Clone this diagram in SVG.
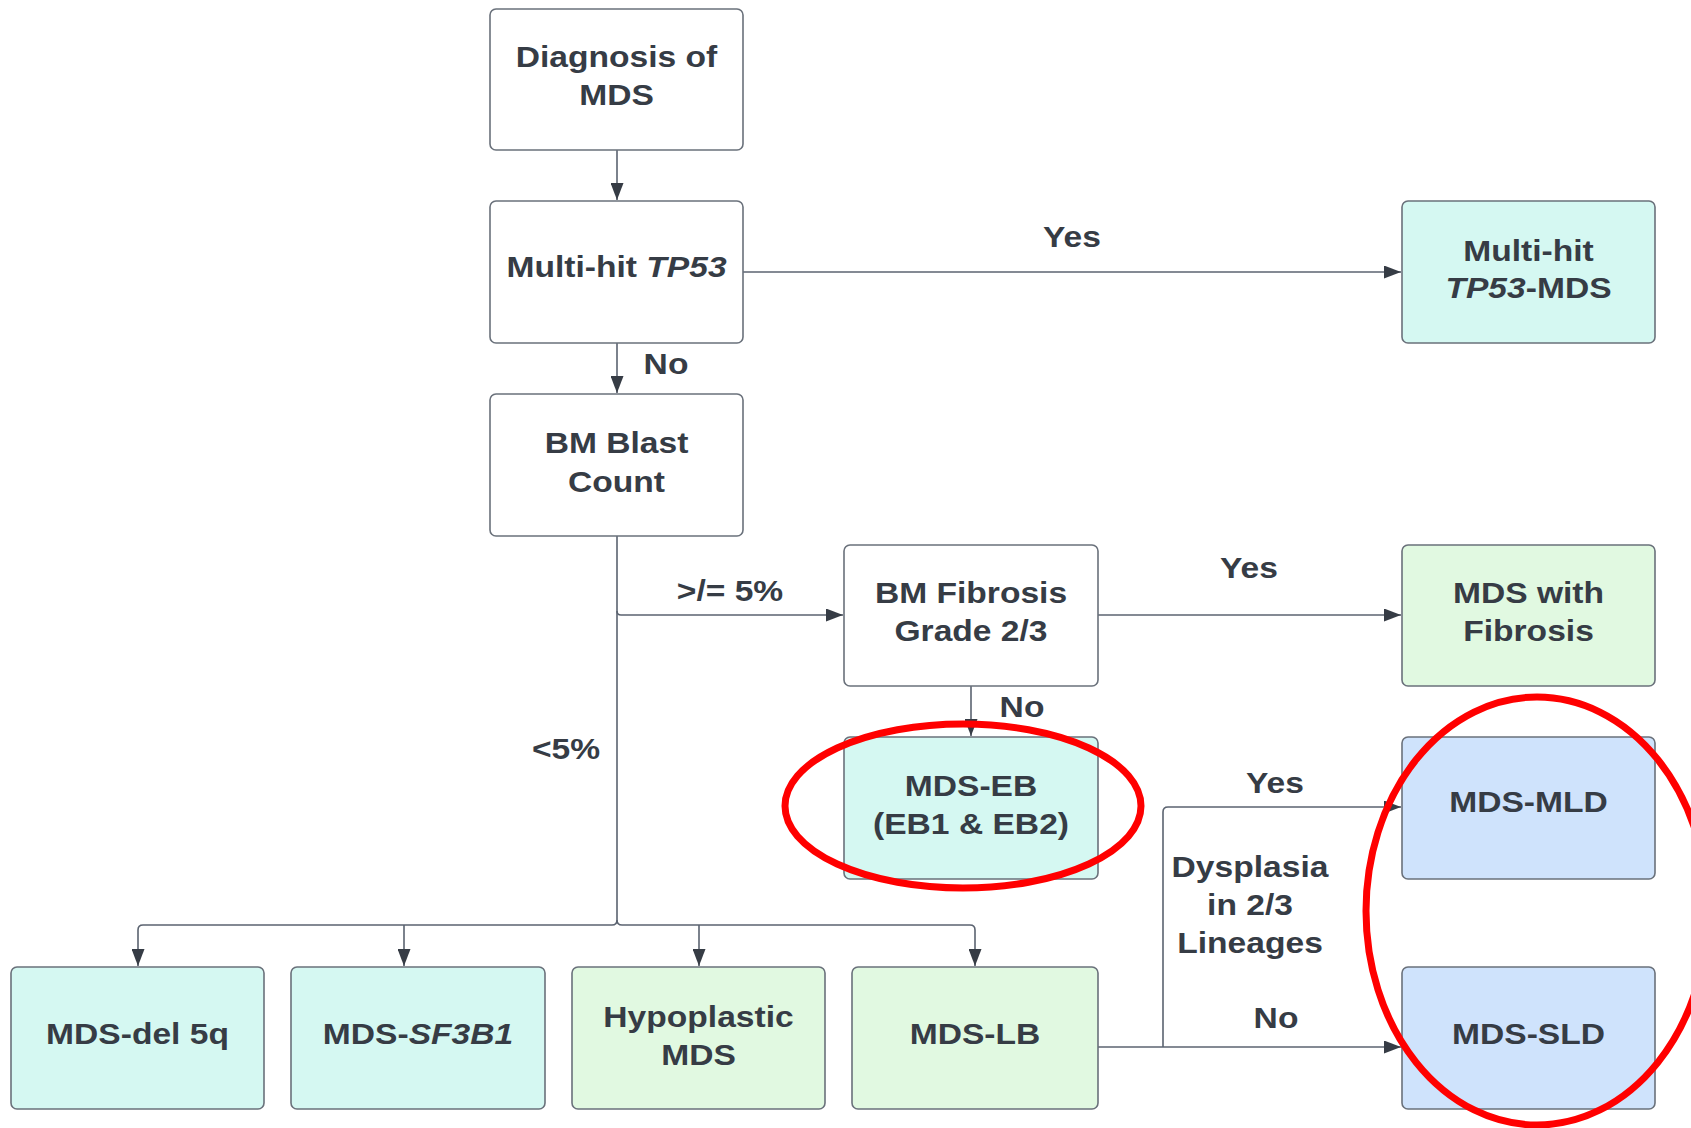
<svg xmlns="http://www.w3.org/2000/svg" width="1691" height="1128" viewBox="0 0 1691 1128">
<style>
  .box{stroke:#6a717b;stroke-width:1.6}
  .w{fill:#ffffff}
  .c{fill:#d5f8f2}
  .g{fill:#e1f9e1}
  .b{fill:#cfe3fc}
  .t{font-family:"Liberation Sans",Arial,sans-serif;font-weight:bold;font-size:30px;fill:#363c45;text-anchor:middle}
  .i{font-style:italic}
  .ln{fill:none;stroke:#5b6370;stroke-width:1.6}
  .red{fill:none;stroke:#ff0000;stroke-width:7}
</style>
<defs>
  <marker id="ah" viewBox="0 0 17 13" refX="17" refY="6.5" markerWidth="17" markerHeight="13" markerUnits="userSpaceOnUse" orient="auto">
    <path d="M0,0 L17,6.5 L0,13 Z" fill="#363c45"/>
  </marker>
</defs>
<rect width="1691" height="1128" fill="#ffffff"/>

<g id="connectors">
  <path class="ln" d="M617,150 V200" marker-end="url(#ah)"/>
  <path class="ln" d="M743,272 H1401" marker-end="url(#ah)"/>
  <path class="ln" d="M617,343 V393" marker-end="url(#ah)"/>
  <path class="ln" d="M617,536 V611 Q617,615 621,615 H843" marker-end="url(#ah)"/>
  <path class="ln" d="M617,611 V920 Q617,925 612,925 H143 Q138,925 138,930 V966" marker-end="url(#ah)"/>
  <path class="ln" d="M617,920 Q617,925 622,925 H970 Q975,925 975,930 V966" marker-end="url(#ah)"/>
  <path class="ln" d="M404,925 V966" marker-end="url(#ah)"/>
  <path class="ln" d="M699,925 V966" marker-end="url(#ah)"/>
  <path class="ln" d="M1098,615 H1401" marker-end="url(#ah)"/>
  <path class="ln" d="M971,686 V736" marker-end="url(#ah)"/>
  <path class="ln" d="M1098,1047 H1401" marker-end="url(#ah)"/>
  <path class="ln" d="M1163,1047 V812 Q1163,807 1168,807 H1401" marker-end="url(#ah)"/>

  <text class="t" transform="translate(1072 0) scale(1.12 1)" x="0" y="247">Yes</text>
  <text class="t" transform="translate(666 0) scale(1.12 1)" x="0" y="374">No</text>
  <text class="t" transform="translate(730 0) scale(1.12 1)" x="0" y="601">&gt;/= 5%</text>
  <text class="t" transform="translate(566 0) scale(1.12 1)" x="0" y="759">&lt;5%</text>
  <text class="t" transform="translate(1249 0) scale(1.12 1)" x="0" y="578">Yes</text>
  <text class="t" transform="translate(1022 0) scale(1.12 1)" x="0" y="717">No</text>
  <text class="t" transform="translate(1275 0) scale(1.12 1)" x="0" y="793">Yes</text>
  <text class="t" transform="translate(1250 0) scale(1.12 1)"><tspan x="0" y="877">Dysplasia</tspan><tspan x="0" y="915">in 2/3</tspan><tspan x="0" y="953">Lineages</tspan></text>
  <text class="t" transform="translate(1276 0) scale(1.12 1)" x="0" y="1028">No</text>
</g>

<g id="n-diag">
  <rect class="box w" x="490" y="9" width="253" height="141" rx="6"/>
  <text class="t" transform="translate(616.5 0) scale(1.12 1)"><tspan x="0" y="67">Diagnosis of</tspan><tspan x="0" y="105">MDS</tspan></text>
</g>
<g id="n-tp53">
  <rect class="box w" x="490" y="201" width="253" height="142" rx="6"/>
  <text class="t" transform="translate(616.5 0) scale(1.12 1)" x="0" y="277">Multi-hit <tspan class="i">TP53</tspan></text>
</g>
<g id="n-blast">
  <rect class="box w" x="490" y="394" width="253" height="142" rx="6"/>
  <text class="t" transform="translate(616.5 0) scale(1.12 1)"><tspan x="0" y="453">BM Blast</tspan><tspan x="0" y="492">Count</tspan></text>
</g>
<g id="n-tp53mds">
  <rect class="box c" x="1402" y="201" width="253" height="142" rx="6"/>
  <text class="t" transform="translate(1528.5 0) scale(1.12 1)"><tspan x="0" y="261">Multi-hit</tspan><tspan x="0" y="298"><tspan class="i">TP53</tspan>-MDS</tspan></text>
</g>
<g id="n-fib">
  <rect class="box w" x="844" y="545" width="254" height="141" rx="6"/>
  <text class="t" transform="translate(971 0) scale(1.12 1)"><tspan x="0" y="603">BM Fibrosis</tspan><tspan x="0" y="641">Grade 2/3</tspan></text>
</g>
<g id="n-mdsfib">
  <rect class="box g" x="1402" y="545" width="253" height="141" rx="6"/>
  <text class="t" transform="translate(1528.5 0) scale(1.12 1)"><tspan x="0" y="603">MDS with</tspan><tspan x="0" y="641">Fibrosis</tspan></text>
</g>
<g id="n-eb">
  <rect class="box c" x="844" y="737" width="254" height="142" rx="6"/>
  <text class="t" transform="translate(971 0) scale(1.12 1)"><tspan x="0" y="796">MDS-EB</tspan><tspan x="0" y="834">(EB1 &amp; EB2)</tspan></text>
</g>
<g id="n-mld">
  <rect class="box b" x="1402" y="737" width="253" height="142" rx="6"/>
  <text class="t" transform="translate(1528.5 0) scale(1.12 1)" x="0" y="812">MDS-MLD</text>
</g>
<g id="n-del5q">
  <rect class="box c" x="11" y="967" width="253" height="142" rx="6"/>
  <text class="t" transform="translate(137.5 0) scale(1.12 1)" x="0" y="1044">MDS-del 5q</text>
</g>
<g id="n-sf3b1">
  <rect class="box c" x="291" y="967" width="254" height="142" rx="6"/>
  <text class="t" transform="translate(418 0) scale(1.12 1)" x="0" y="1044">MDS-<tspan class="i">SF3B1</tspan></text>
</g>
<g id="n-hypo">
  <rect class="box g" x="572" y="967" width="253" height="142" rx="6"/>
  <text class="t" transform="translate(698.5 0) scale(1.12 1)"><tspan x="0" y="1027">Hypoplastic</tspan><tspan x="0" y="1065">MDS</tspan></text>
</g>
<g id="n-lb">
  <rect class="box g" x="852" y="967" width="246" height="142" rx="6"/>
  <text class="t" transform="translate(975 0) scale(1.12 1)" x="0" y="1044">MDS-LB</text>
</g>
<g id="n-sld">
  <rect class="box b" x="1402" y="967" width="253" height="142" rx="6"/>
  <text class="t" transform="translate(1528.5 0) scale(1.12 1)" x="0" y="1044">MDS-SLD</text>
</g>

<g id="annotations">
  <ellipse class="red" cx="963" cy="806" rx="178" ry="82"/>
  <ellipse class="red" cx="1537" cy="911" rx="171" ry="214"/>
</g>
</svg>
